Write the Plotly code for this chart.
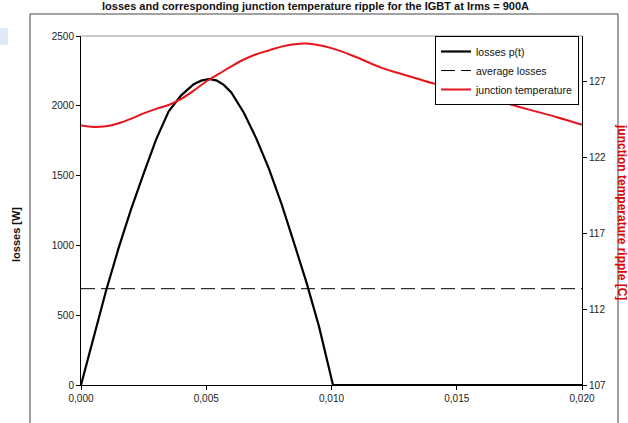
import plotly.graph_objects as go

# time in seconds
t_loss = [0.0, 0.0005, 0.0010, 0.0015, 0.0020, 0.0025, 0.0030, 0.0035, 0.0040, 0.0045,
          0.0048, 0.0051, 0.0054, 0.0057, 0.0060, 0.0065, 0.0070, 0.0075, 0.0080, 0.0085,
          0.0090, 0.0095, 0.01006, 0.020]
losses = [0, 340, 675, 980, 1260, 1515, 1760, 1960, 2075, 2155,
          2180, 2192, 2182, 2150, 2095, 1950, 1765, 1550, 1300, 1020,
          735, 420, 0, 0]

t_avg = [0.0, 0.020]
avg_losses = [690, 690]

t_temp = [0.0, 0.0005, 0.0010, 0.0015, 0.0020, 0.0025, 0.0030, 0.0035, 0.0040, 0.0045,
          0.0050, 0.0055, 0.0060, 0.0065, 0.0070, 0.0075, 0.0080, 0.0085, 0.0090, 0.0100,
          0.0110, 0.0120, 0.0130, 0.0140, 0.0150, 0.0160, 0.0170, 0.0180, 0.0190, 0.0200]
temp = [124.1, 124.0, 124.05, 124.25, 124.55, 124.9, 125.2, 125.45, 125.85, 126.4,
        127.0, 127.5, 128.0, 128.45, 128.8, 129.05, 129.3, 129.45, 129.5, 129.2,
        128.6, 127.9, 127.4, 126.9, 126.5, 126.0, 125.55, 125.1, 124.65, 124.15]

x_ticks = [0.0, 0.005, 0.010, 0.015, 0.020]
x_ticktext = ["0,000", "0,005", "0,010", "0,015", "0,020"]
y_ticks = [0, 500, 1000, 1500, 2000, 2500]
y2_ticks = [107, 112, 117, 122, 127]

title_text = "losses and corresponding junction temperature ripple for the IGBT at Irms = 900A"

FONT = "Liberation Sans, Arial, sans-serif"

fig = go.Figure()
fig.add_trace(go.Scatter(x=t_loss, y=losses, mode="lines", name="losses p(t)",
                         line=dict(color="black", width=2.2), cliponaxis=False))
fig.add_trace(go.Scatter(x=t_avg, y=avg_losses, mode="lines", name="average losses",
                         line=dict(color="black", width=1, dash="14px,6px")))
fig.add_trace(go.Scatter(x=t_temp, y=temp, mode="lines", name="junction temperature",
                         line=dict(color="#e8141c", width=2, shape="spline"), yaxis="y2"))

W, H = 628, 423
L, R, T, B = 81, 46, 36, 38
pw, ph = W - L - R, H - T - B


def px(xp):
    return (xp - L) / pw


def py(yp):
    return (H - B - yp) / ph


fig.update_layout(
    width=W, height=H,
    margin=dict(l=L, r=R, t=T, b=B),
    paper_bgcolor="white", plot_bgcolor="white",
    font=dict(family=FONT, size=10, color="#222"),
    showlegend=True,
    legend=dict(x=px(435), y=1.0, xanchor="left", yanchor="top",
                bgcolor="white", bordercolor="black", borderwidth=1,
                font=dict(size=10.5, color="#111"), tracegroupgap=0,
                itemwidth=30),
    xaxis=dict(range=[0, 0.020], tickvals=x_ticks, ticktext=x_ticktext,
               showgrid=False, zeroline=False, showline=True, linecolor="black",
               linewidth=1, ticks="outside", ticklen=4, tickcolor="black",
               tickfont=dict(size=10, color="#222")),
    yaxis=dict(range=[0, 2500], tickvals=y_ticks, showgrid=False, zeroline=False,
               showline=True, linecolor="black", linewidth=1, ticks="outside",
               ticklen=4, tickcolor="black", tickfont=dict(size=10, color="#222")),
    yaxis2=dict(range=[107, 130], tickvals=y2_ticks, overlaying="y", side="right",
                showgrid=False, zeroline=False, showline=True, linecolor="black",
                linewidth=1, ticks="outside", ticklen=4, tickcolor="black",
                tickfont=dict(size=10, color="#222")),
    shapes=[
        dict(type="line", xref="paper", yref="paper", x0=0, x1=1, y0=1, y1=1,
             line=dict(color="#999", width=1)),
        dict(type="rect", xref="paper", yref="paper", x0=px(30), x1=px(618),
             y0=py(440), y1=py(14), line=dict(color="#444", width=1),
             fillcolor="rgba(0,0,0,0)", layer="below"),
        dict(type="rect", xref="paper", yref="paper", x0=px(0), x1=px(8),
             y0=py(45), y1=py(28), line=dict(width=0), fillcolor="#dfe8f7",
             layer="below"),
    ],
    annotations=[
        dict(text="<b>" + title_text + "</b>", xref="paper", yref="paper",
             x=px(315), y=py(6), xanchor="center", yanchor="middle",
             showarrow=False, font=dict(size=11, color="#111")),
        dict(text="<b>losses [W]</b>", xref="paper", yref="paper",
             x=px(16), y=py(235), xanchor="center", yanchor="middle",
             textangle=-90, showarrow=False, font=dict(size=11, color="#111")),
        dict(text="<b>junction temperature ripple [C]</b>", xref="paper", yref="paper",
             x=px(622), y=py(212), xanchor="center", yanchor="middle",
             textangle=90, showarrow=False, font=dict(size=12, color="#e00000")),
    ],
)

fig.write_html("out.html", config={"displayModeBar": False},
               post_script="document.body.style.margin='0';document.body.style.overflow='hidden';")
